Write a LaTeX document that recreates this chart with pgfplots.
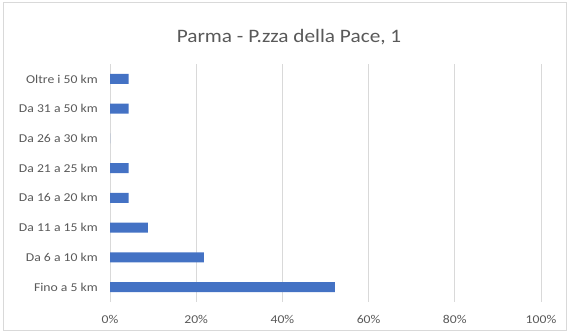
\documentclass[border=0pt]{standalone}
\usepackage{fontspec}
\setmainfont{Carlito}
\usepackage{pgfplots}
\pgfplotsset{compat=1.18}
\definecolor{barblue}{RGB}{68,114,196}
\definecolor{gridgray}{RGB}{217,217,217}
\definecolor{txtgray}{RGB}{89,89,89}
\begin{document}
\begin{tikzpicture}[x=1pt,y=1pt]
\path[use as bounding box] (0,0) rectangle (568,331);
\draw[gridgray,line width=0.8pt] (3,1) rectangle (566,329);
\node[txtgray,font=\fontsize{19}{22}\selectfont,xscale=1.12] at (289,294) {Parma - P.zza della Pace, 1};
\begin{axis}[
  at={(110pt,29pt)}, anchor=south west,
  scale only axis, width=431pt, height=238pt,
  xbar, bar width=10pt,
  xmin=0, xmax=100, ymin=-0.5, ymax=7.5,
  xtick={0,20,40,60,80,100},
  xticklabel={\pgfmathprintnumber{\tick}\%},
  ytick={0,1,2,3,4,5,6,7},
  yticklabels={Fino a 5 km,Da 6 a 10 km,Da 11 a 15 km,Da 16 a 20 km,Da 21 a 25 km,Da 26 a 30 km,Da 31 a 50 km,Oltre i 50 km},
  /pgf/number format/assume math mode=true,
  xmajorgrids, major grid style={gridgray, line width=0.8pt},
  axis line style={draw=none},
  major tick length=0pt,
  tick label style={txtgray, font=\fontsize{12}{14}\selectfont},
  yticklabel style={anchor=east, inner sep=0pt, xshift=-12pt, xscale=1.14},
  xticklabel style={anchor=north, inner sep=0pt, yshift=-13pt, xscale=1.14},
  clip=false,
]
\addplot[fill=barblue, draw=none] coordinates {
(52.2,0) (21.8,1) (8.8,2) (4.3,3) (4.3,4) (0,5) (4.3,6) (4.3,7)};
\end{axis}
\end{tikzpicture}
\end{document}
